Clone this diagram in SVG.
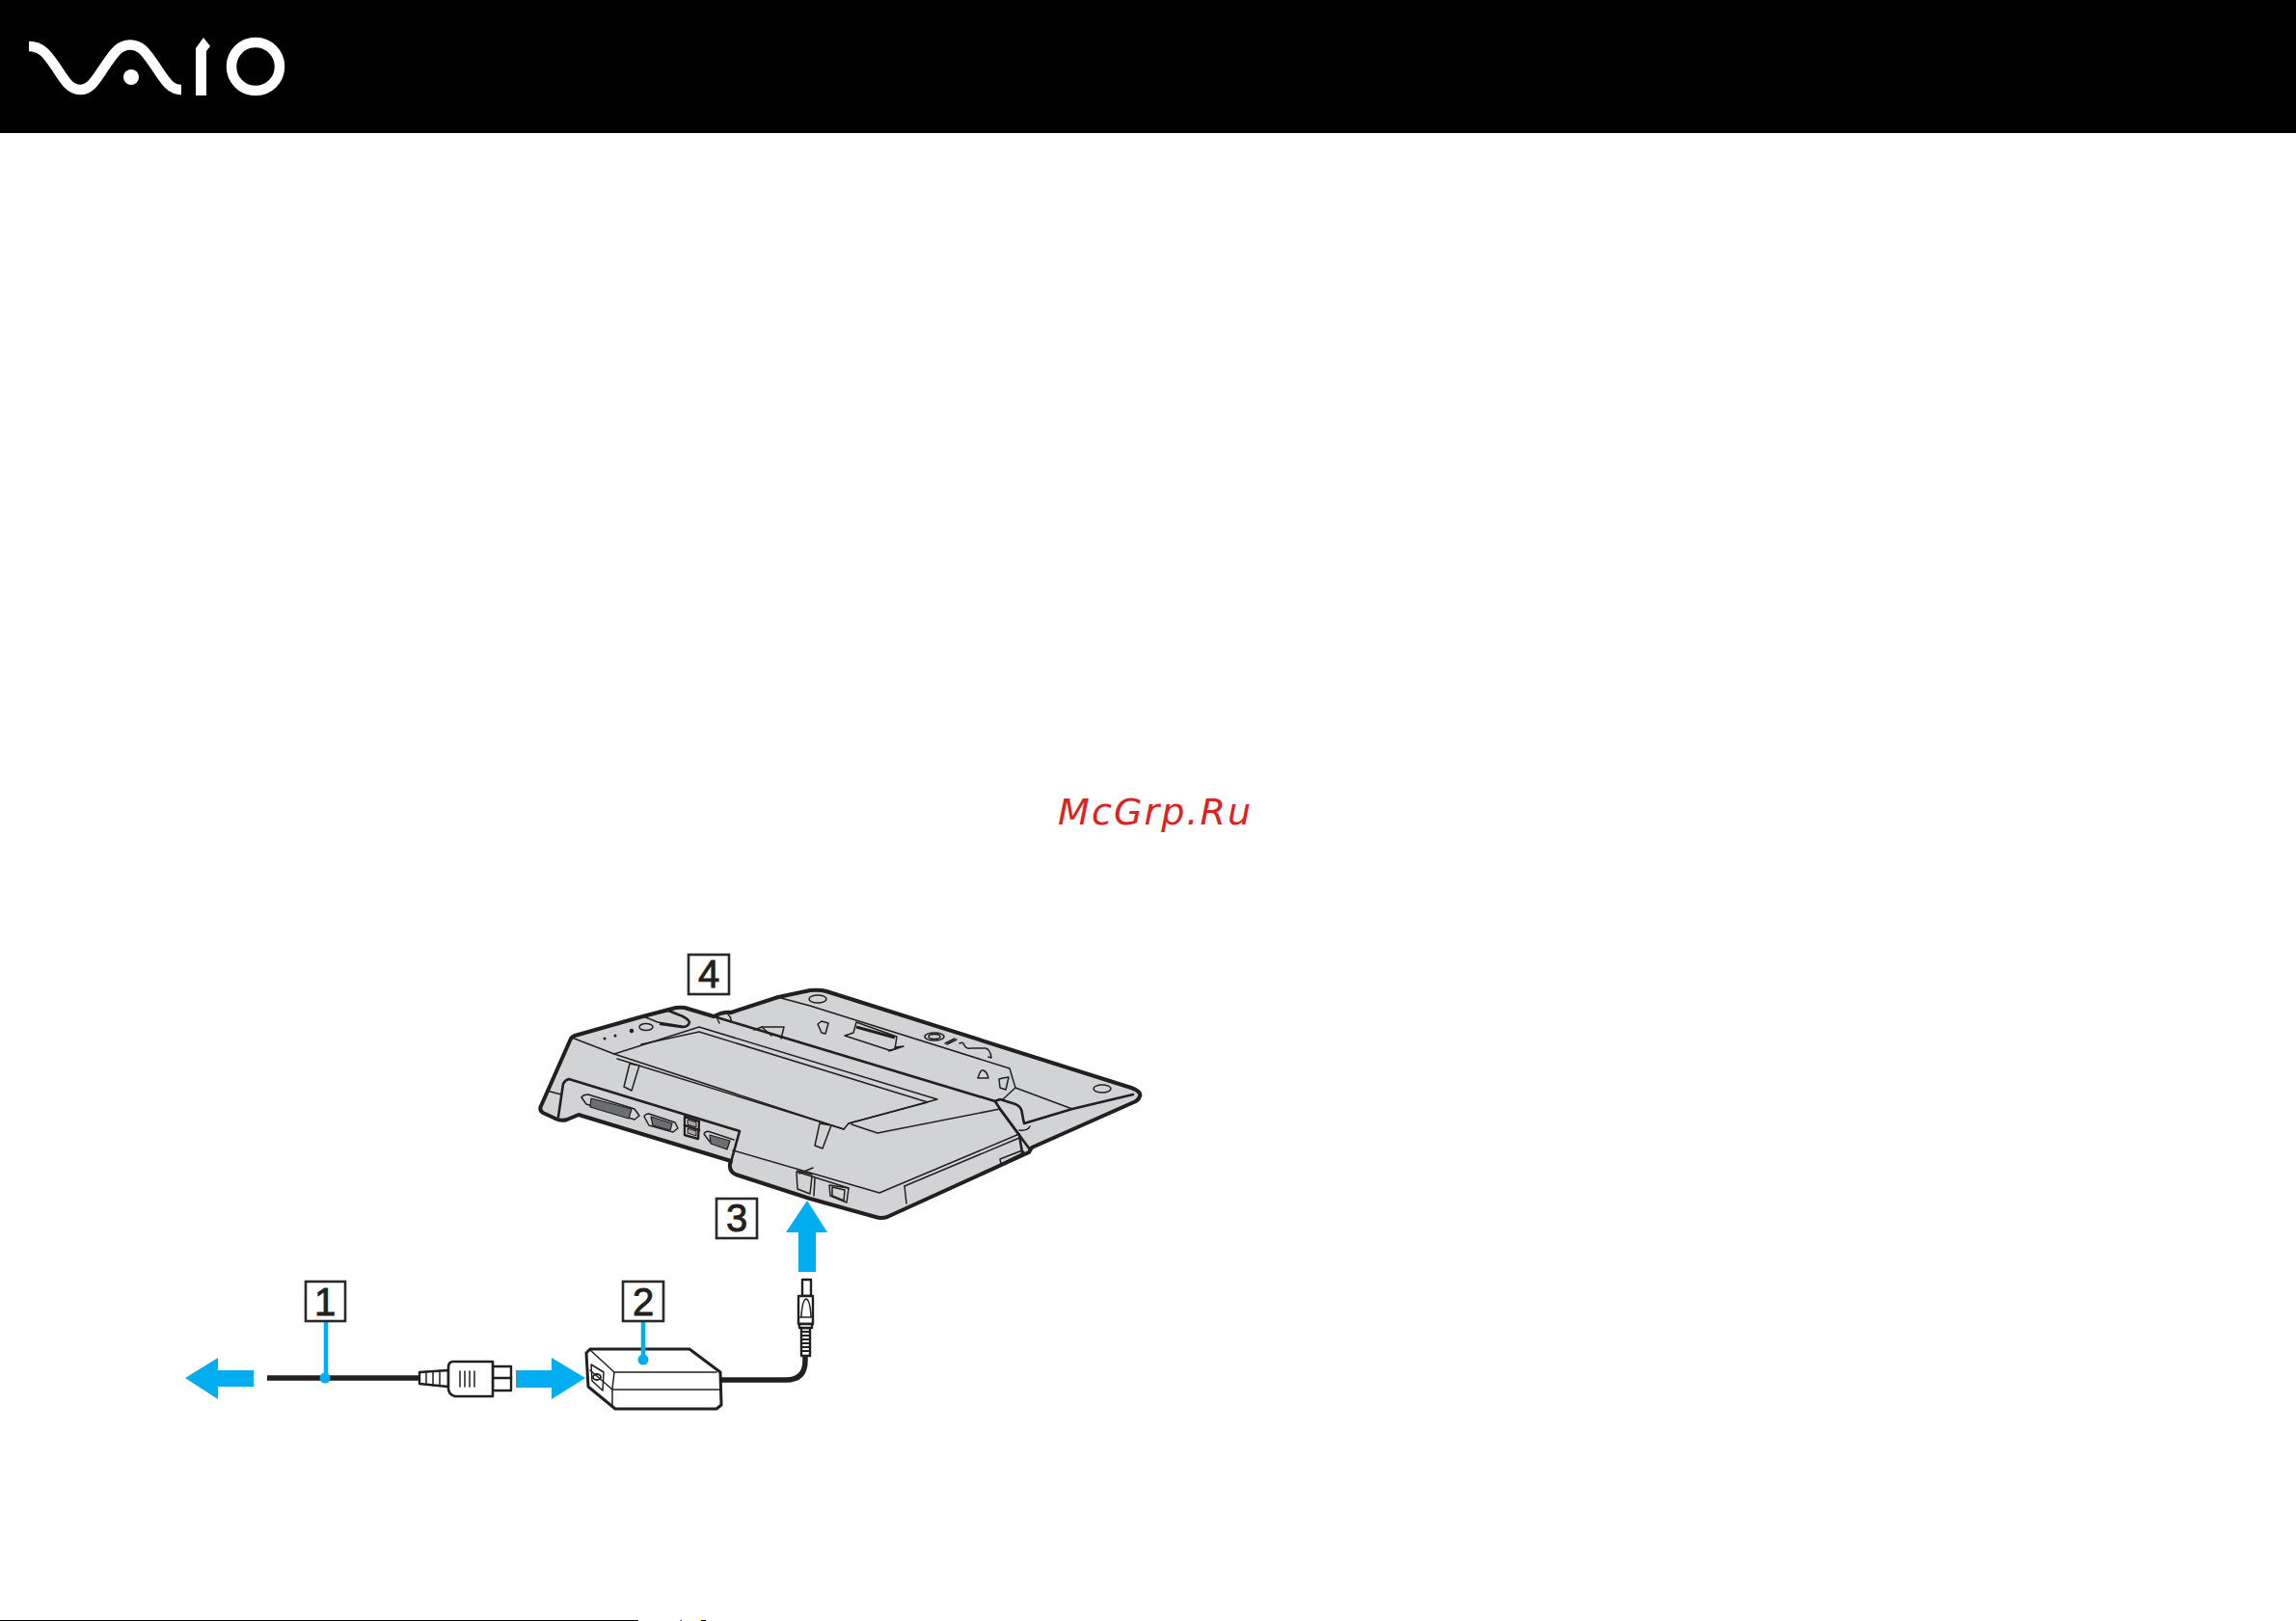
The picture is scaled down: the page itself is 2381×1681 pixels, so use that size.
<svg xmlns="http://www.w3.org/2000/svg" width="2381" height="1681" viewBox="0 0 2381 1681">
<style>
.b{fill:#231f20;stroke:none}
.o{fill:#d1d3d4;stroke:#231f20;stroke-width:4;stroke-linejoin:round}
.m{fill:none;stroke:#231f20;stroke-width:2.6;stroke-linejoin:round;stroke-linecap:round}
.t{fill:none;stroke:#231f20;stroke-width:1.5;stroke-linejoin:round;stroke-linecap:round}
.g{fill:#d1d3d4;stroke:#231f20;stroke-width:1.5;stroke-linejoin:round}
.d{fill:#6d6e71;stroke:#231f20;stroke-width:1.2;stroke-linejoin:round}
.w{fill:#fff;stroke:#231f20;stroke-width:2.4;stroke-linejoin:round}
.a{fill:#00aeef;stroke:none}
.l{stroke:#00aeef;stroke-width:4.5;fill:none}
.c{fill:none;stroke:#231f20;stroke-width:5.5}
.box{fill:#fff;stroke:#2b2829;stroke-width:2.6}
.n{font-family:"Liberation Sans",Arial,sans-serif;font-size:40px;fill:#231f20;stroke:#231f20;stroke-width:.9;text-anchor:middle}
</style>
<rect id="page" width="2381" height="1681" fill="#fff"/>
<g id="header">
<rect width="2381" height="138" fill="#000"/>
<path d="M30 48C44 48 50 58 59 71C68 85 73 93 83 93C95 93 100 81 110 67C119 54 124 46.500 135 46.500C146 46.500 151 54 160 67C170 81 175 93 188 93" fill="none" stroke="#fff" stroke-width="10.500"/>
<circle cx="136" cy="80" r="8" fill="#fff"/>
<path d="M203 99V50L211 39L218 48L214 53V99Z" fill="#fff"/>
<circle cx="265" cy="69" r="25" fill="none" stroke="#fff" stroke-width="10.500"/>
</g>
<text id="watermark" x="1097" y="855" font-family="DejaVu Sans,sans-serif" font-style="italic" font-size="38" letter-spacing="2.100" fill="#dd2222">McGrp.Ru</text>
<g id="dock">
<path class="o" d="M592 1077Q593 1075 596 1074L663 1055L697 1046Q703 1044 710 1045L740 1054L747 1051Q755 1049 758 1050L807 1034L840 1027Q850 1026 857 1028L1173 1128Q1184 1132 1182 1137Q1181 1140 1178 1142L1070 1190L1067 1195L920 1262Q914 1264 908 1262L840 1243L763 1218Q756 1215 757 1207L758 1204L600 1156L588 1161Q582 1163 576 1160L563 1154Q559 1151 561 1147Z"/>
<path class="m" d="M758 1205L767 1173L590 1119Q586 1120 584 1124L579 1158"/>
<path class="t" d="M567 1131L582 1135"/>
<path class="t" d="M593 1076L637 1093"/>
<path class="t" d="M760 1193L912 1237L1057 1176"/>
<path class="t" d="M938 1230L1057 1180"/>
<path class="t" d="M938 1230L940 1248"/>
<path class="m" d="M740 1054L1032 1142L1037 1150L1068 1192"/>
<path class="m" d="M1032 1142L1037 1140L1053 1145Q1060 1148 1060 1155L1062 1165L1112 1150L1175 1135"/>
<path class="m" d="M1037 1150L1057 1177L1060 1195"/>
<path class="t" d="M810 1035L840 1043L1047 1108L1053 1128L1112 1150"/>
<path class="t" d="M1053 1128L1040 1140"/>
<path class="t" d="M1057 1172Q1066 1173 1068 1168"/>
<path class="t" d="M883 1166L910 1175L1037 1150"/>
<path class="t" d="M1037 1202L1060 1193L1062 1195L1038 1207Z"/>
<path class="g" d="M637 1093L725 1065L972 1140L880 1165L875 1171Z"/>
<path class="t" d="M640 1098L875 1171"/>
<path class="t" d="M665 1083L725 1070L962 1143L880 1165"/>
<path class="g" d="M653 1103L647 1127L655 1131L663 1105Z"/>
<path class="g" d="M850 1165L845 1188L853 1191L862 1167Z"/>
<circle cx="627" cy="1077" r="1.500" class="b"/>
<circle cx="638" cy="1074" r="1.500" class="b"/>
<circle cx="655" cy="1069" r="2.300" class="b"/>
<ellipse cx="670" cy="1065" rx="7" ry="3.500" class="t"/>
<path class="m" d="M667 1054L693 1048L703 1052Q714 1056 715 1060Q714 1065 707 1065L685 1062"/>
<path class="t" d="M667 1054L682 1060L707 1064"/>
<path class="t" d="M744 1057L746 1061M755 1052Q759 1056 758 1060"/>
<path class="t" d="M782 1068L790 1065L813 1065L810 1077"/>
<path class="t" d="M790 1065L800 1074"/>
<ellipse cx="848" cy="1036" rx="9" ry="4" class="t"/>
<path class="t" d="M848 1062L852 1059L859 1061L856 1072L852 1071Z"/>
<path class="g" d="M876 1074L885 1071L888 1060L930 1075L928 1088L922 1089Z"/>
<path class="t" d="M928 1086L937 1085L922 1090"/>
<path stroke="#231f20" stroke-width="3" d="M888 1065L928 1076"/>
<ellipse cx="969" cy="1075" rx="10" ry="4" class="t"/>
<ellipse cx="969" cy="1075" rx="6" ry="2.400" class="t"/>
<path class="t" d="M980 1082L990 1077M982 1083L992 1078"/>
<path class="t" d="M995 1082Q999 1080 1000 1084Q1002 1088 1007 1087L1022 1087Q1027 1088 1028 1097L1025 1096"/>
<path class="t" d="M1014 1118Q1017 1108 1020 1110Q1024 1112 1025 1118Z"/>
<path class="t" d="M1036 1119L1040 1118L1046 1117L1043 1130L1037 1128Z"/>
<ellipse cx="1143" cy="1129" rx="9" ry="4" class="t"/>
<path class="t" d="M603 1138Q605 1135 610 1135L658 1150L663 1157L658 1161L608 1145Z"/>
<path class="d" d="M613 1139L655 1150L652 1160L612 1148Z"/>
<path class="t" d="M668 1158Q669 1155 673 1155L700 1164L703 1170L698 1174L673 1167Z"/>
<path class="d" d="M675 1158L697 1165L695 1172L677 1167Z"/>
<path class="w" d="M710 1158L725 1163L724 1181L710 1177Z"/>
<path class="m" d="M710 1167L725 1172"/>
<path class="d" d="M713 1161L722 1164V1169L713 1166ZM713 1170L722 1173V1178L713 1175Z" style="fill:#a7a9ac"/>
<path class="t" d="M730 1176Q732 1172 737 1174L761 1182M730 1176L736 1184"/>
<path class="d" d="M736 1177L757 1183L754 1192L737 1186Z"/>
<path class="t" d="M826 1215L842 1220L840 1238L827 1233Z"/>
<path class="t" d="M829 1217L843 1211M842 1220L880 1232"/>
<path class="t" d="M827 1214L842 1218"/>
<path class="t" d="M845 1222L844 1240"/>
<path class="t" d="M860 1229L880 1232L878 1247L861 1240Z"/>
<path class="t" d="M863 1231L876 1234L875 1245L863 1240Z"/>
</g>
<g id="adapter">
<path class="w" d="M608 1403L612 1399H715L747 1423L748 1457L743 1461H638L610 1438Z" style="stroke-width:3"/>
<path class="t" d="M612 1400L637 1423H743M637 1423L635 1440V1457M612 1421L635 1441H747"/>
<path class="t" d="M613 1415L626 1423L625 1442L614 1432Z"/>
<ellipse cx="619" cy="1428" rx="4" ry="3" class="t" style="stroke-width:1.800"/>
</g>
<g id="plug">
<path class="w" d="M435 1423L465 1421V1438L435 1435Z"/>
<path class="t" d="M442 1422V1436M449 1422V1437M456 1421V1437"/>
<path class="w" d="M530 1417H511V1442H530Z"/>
<path class="m" d="M511 1429H530"/>
<path class="w" d="M470 1412H511V1448H472Q465 1446 465 1440V1418Q465 1412 470 1412Z" style="stroke-width:2.600"/>
<path class="t" d="M477 1422V1438M482 1422V1438M487 1422V1438M492 1422V1438"/>
</g>
<g id="jack">
<path class="w" d="M832 1327H841V1344H832Z"/>
<path class="w" d="M828 1344H843V1373H828Z"/>
<path class="t" d="M831 1365Q832 1348 836 1347Q840 1348 841 1365M828 1366H843"/>
<path class="w" d="M831 1377H840V1406H831Z"/>
<path fill="none" stroke="#231f20" stroke-width="1.800" d="M831 1381H840M831 1385H840M831 1389H840M831 1393H840M831 1397H840M831 1401H840"/>
<rect x="829" y="1373" width="13" height="4" class="w"/>
</g>
<g id="connectors">
<path class="c" d="M277 1429H435"/>
<path class="c" d="M748 1431H815Q835 1431 835 1411V1405"/>
<path class="l" d="M338 1370V1429"/>
<circle cx="337" cy="1429" r="5.500" class="a"/>
<path class="l" d="M667 1370V1410"/>
<circle cx="667" cy="1410" r="5.500" class="a"/>
<path class="a" d="M192 1429L226 1408V1421H263V1438H226V1451Z"/>
<path class="a" d="M607 1429L572 1408V1421H535V1439H572V1451Z"/>
<path class="a" d="M837 1245L815 1278H828V1319H846V1278H858Z"/>
</g>
<g id="n1"><rect x="317" y="1329" width="41" height="41" class="box"/><text x="337" y="1364" class="n">1</text></g>
<g id="n2"><rect x="646" y="1329" width="42" height="41" class="box"/><text x="667" y="1364" class="n">2</text></g>
<g id="n3"><rect x="743" y="1243" width="42" height="41" class="box"/><text x="764" y="1277" class="n">3</text></g>
<g id="n4"><rect x="714" y="990" width="42" height="41" class="box"/><text x="735" y="1024" class="n">4</text></g>
<g id="footer">
<rect y="1680" width="662" height="1" fill="#000"/>
<rect x="705" y="1680" width="1" height="1" fill="#f26522"/>
<rect x="706" y="1680" width="1" height="1" fill="#2e3192"/>
<rect x="726" y="1680" width="1" height="1" fill="#f7e017"/>
<rect x="727" y="1680" width="5" height="1" fill="#000"/>
</g>
</svg>
